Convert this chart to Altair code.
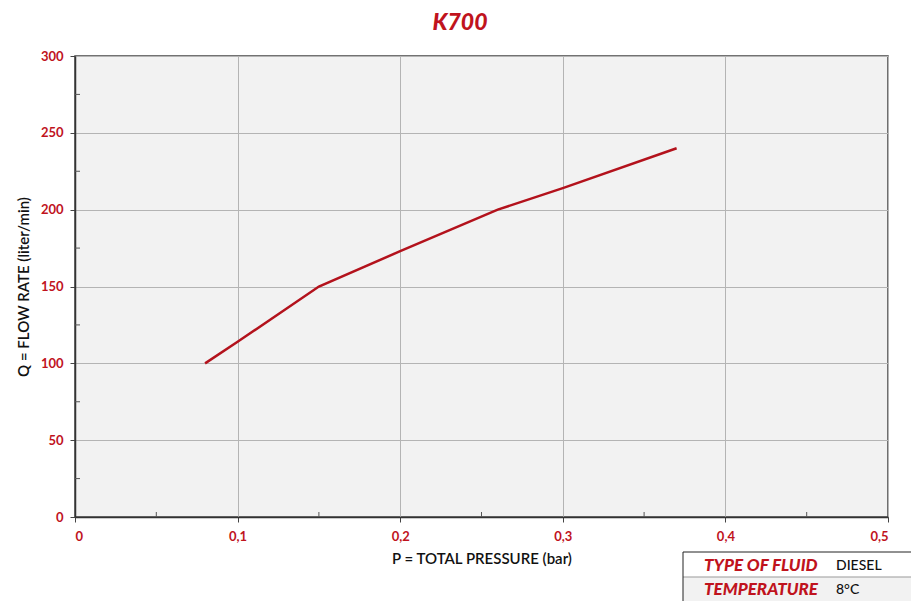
import altair as alt
import pandas as pd

# ---- data ----
pressure = [0.08, 0.10, 0.15, 0.20, 0.26, 0.30, 0.37]
flow = [100, 114, 150, 173, 200, 214, 240]
x_ticks = [0, 0.1, 0.2, 0.3, 0.4, 0.5]
y_ticks = [0, 50, 100, 150, 200, 250, 300]
x_minor = [0.05, 0.15, 0.25, 0.35, 0.45]
y_minor = [25, 75, 125, 175, 225, 275]
title_text = "K700"
x_title = "P = TOTAL PRESSURE (bar)"
y_title = "Q = FLOW RATE (liter/min)"
table_keys = ["TYPE OF FLUID", "TEMPERATURE"]
table_vals = ["DIESEL", "8°C"]

W, H = 813, 461
RED = "#c0131d"
LINE_RED = "#b3121c"
LABEL_FONT = "Lato"
TITLE_FONT = "Lato"

xscale = alt.Scale(domain=[0, 0.5], nice=False, zero=True)
yscale = alt.Scale(domain=[0, 300], nice=False)

xaxis = alt.Axis(
    values=x_ticks,
    labelExpr="replace(format(datum.value, '.1~f'), '.', ',')",
    title=x_title, titleFont=TITLE_FONT, titleFontSize=15, titleFontWeight=600,
    titleColor="#111", titlePadding=8,
    labelFont=LABEL_FONT, labelFontWeight="bold", labelFontSize=13, labelColor=RED,
    labelPadding=8, tickSize=5, tickColor="#444",
    grid=True, gridColor="#b4b4b4", gridWidth=1,
    domainColor="#333", domainWidth=1.5,
)
yaxis = alt.Axis(
    values=y_ticks,
    title=y_title, titleFont=TITLE_FONT, titleFontSize=15, titleFontWeight=600,
    titleColor="#111", titlePadding=9,
    labelFont=LABEL_FONT, labelFontWeight="bold", labelFontSize=13, labelColor=RED,
    labelPadding=7, tickSize=5, tickColor="#444",
    grid=True, gridColor="#b4b4b4", gridWidth=1,
    domainColor="#333", domainWidth=1.5,
)

curve = pd.DataFrame({"p": pressure, "q": flow})
line = alt.Chart(curve).mark_line(color=LINE_RED, strokeWidth=2.5).encode(
    x=alt.X("p:Q", scale=xscale, axis=xaxis),
    y=alt.Y("q:Q", scale=yscale, axis=yaxis),
)

xm = alt.Chart(pd.DataFrame({"p": x_minor})).mark_rule(color="#555", strokeWidth=1).encode(
    x=alt.X("p:Q"), y=alt.value(H), y2=alt.value(H - 5)
)
ym = alt.Chart(pd.DataFrame({"q": y_minor})).mark_rule(color="#555", strokeWidth=1).encode(
    y=alt.Y("q:Q"), x=alt.value(0), x2=alt.value(5)
)

one = alt.Data(values=[{"a": 1}])

title = alt.Chart(one).mark_text(
    text=title_text, font=LABEL_FONT, fontSize=23, fontWeight=900, fontStyle="italic",
    color=RED, align="center", baseline="middle",
).encode(x=alt.value(385), y=alt.value(-33))

# ---- info table at bottom right ----
tx0, tx1 = 608, 850
ty = [496, 521, 545]
fills = ["#ffffff", "#f2f2f2"]
layers = []
for i, (k, v) in enumerate(zip(table_keys, table_vals)):
    layers.append(
        alt.Chart(one).mark_rect(fill=fills[i], stroke=None).encode(
            x=alt.value(tx0), x2=alt.value(tx1), y=alt.value(ty[i]), y2=alt.value(ty[i + 1])
        )
    )
    yc = (ty[i] + ty[i + 1]) / 2 + 1
    layers.append(
        alt.Chart(one).mark_text(
            text=k, font=TITLE_FONT, fontSize=17, fontWeight=900, fontStyle="italic",
            color=RED, align="left", baseline="middle",
        ).encode(x=alt.value(629), y=alt.value(yc))
    )
    layers.append(
        alt.Chart(one).mark_text(
            text=v, font="Lato", fontSize=14, fontWeight=500, color="#111",
            align="left", baseline="middle",
        ).encode(x=alt.value(761), y=alt.value(yc))
    )
border = alt.Chart(one).mark_rect(fill=None, stroke="#222", strokeWidth=1).encode(
    x=alt.value(tx0), x2=alt.value(tx1), y=alt.value(ty[0]), y2=alt.value(ty[2] + 10)
)
sep = alt.Chart(one).mark_rule(color="#999", strokeWidth=1).encode(
    x=alt.value(tx0), x2=alt.value(tx1), y=alt.value(ty[1])
)

chart = alt.layer(line, xm, ym, title, *layers, sep, border).properties(
    width=W, height=H,
    autosize=alt.AutoSizeParams(type="none"),
    padding={"left": 67, "top": 48, "right": 23, "bottom": 84},
    background="white",
).configure_view(fill="#f2f2f2", stroke="#444", strokeWidth=1.5)

chart.save("out.html", embed_options={"renderer": "svg", "actions": False})
